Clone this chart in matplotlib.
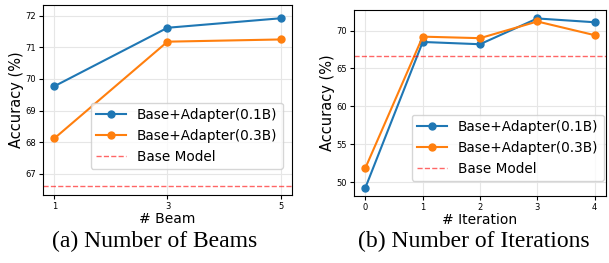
import matplotlib
matplotlib.use("Agg")
import matplotlib.pyplot as plt

beams = [1, 3, 5]
beam_01b = [69.77, 71.62, 71.92]
beam_03b = [68.12, 71.18, 71.25]

iters = [0, 1, 2, 3, 4]
iter_01b = [49.3, 68.5, 68.2, 71.6, 71.1]
iter_03b = [51.9, 69.2, 69.0, 71.2, 69.4]

base_acc = 66.6

W, H = 609, 263
fig = plt.figure(figsize=(W / 100, H / 100), dpi=100)

ax1 = fig.add_axes([43 / W, 1 - 195 / H, 249 / W, 190 / H])
ax2 = fig.add_axes([354 / W, 1 - 196 / H, 252 / W, 186 / H])

def draw(ax, x, a, b, xlabel, leg_anchor):
    ax.plot(x, a, marker='o', markersize=5, linewidth=1.5, color='#1f77b4', label='Base+Adapter(0.1B)')
    ax.plot(x, b, marker='o', markersize=5, linewidth=1.5, color='#ff7f0e', label='Base+Adapter(0.3B)')
    ax.axhline(base_acc, color='red', linestyle='--', linewidth=1, alpha=0.6, label='Base Model')
    ax.set_xticks(x)
    ax.grid(True, color='#e6e6e6', linewidth=0.8)
    ax.set_axisbelow(True)
    ax.tick_params(labelsize=6, length=3, width=0.8, pad=2)
    ax.set_xlabel(xlabel, fontsize=10, labelpad=1)
    ax.set_ylabel('Accuracy (%)', fontsize=10.5, labelpad=1)
    ax.legend(loc='lower right', fontsize=9.8, handlelength=2.2, borderaxespad=0,
              bbox_to_anchor=leg_anchor, bbox_transform=fig.transFigure)

draw(ax1, beams, beam_01b, beam_03b, '# Beam', (283 / W, 1 - 169 / H))
ax1.set_ylim(66.33, 72.34)
ax1.set_yticks([67, 68, 69, 70, 71, 72])

draw(ax2, iters, iter_01b, iter_03b, '# Iteration', (604 / W, 1 - 181 / H))
ax2.set_yticks([50, 55, 60, 65, 70])

fig.text(155 / W, 1 - 241 / H, '(a) Number of Beams', family='Liberation Serif',
         fontsize=17, ha='center', va='center')
fig.text(474 / W, 1 - 241 / H, '(b) Number of Iterations', family='Liberation Serif',
         fontsize=17, ha='center', va='center')

fig.savefig('out.png', dpi=100)
